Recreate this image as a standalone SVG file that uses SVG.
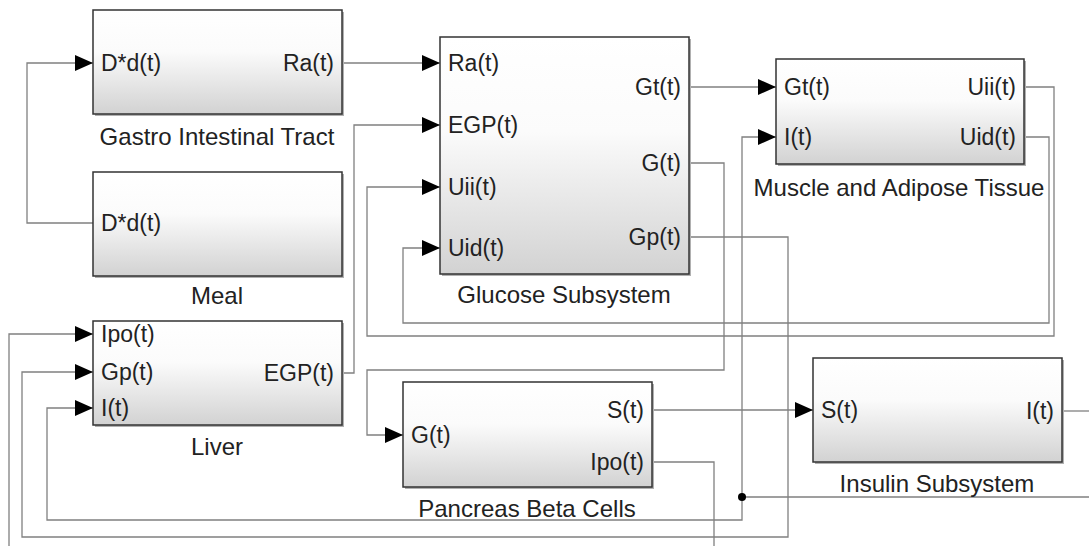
<svg xmlns="http://www.w3.org/2000/svg" width="1089" height="546" viewBox="0 0 1089 546">
<style>
.blk{fill:url(#g);stroke:#333;stroke-width:1.5}
.sh{fill:#b0b0b0}
.pt{font-family:"Liberation Sans",Arial,sans-serif;font-size:23px;fill:#222}
.lb{font-family:"Liberation Sans",Arial,sans-serif;font-size:24px;fill:#222;text-anchor:middle}
.r{text-anchor:end}
.c{fill:none;stroke:#808080;stroke-width:1.3}
.a{marker-end:url(#arr)}
</style>
<defs>
<linearGradient id="g" x1="0" y1="0" x2="0" y2="1">
<stop offset="0" stop-color="#ffffff"/>
<stop offset="0.4" stop-color="#fbfbfb"/>
<stop offset="1" stop-color="#d2d2d2"/>
</linearGradient>
<marker id="arr" markerUnits="userSpaceOnUse" markerWidth="18" markerHeight="16" refX="18" refY="8" orient="auto">
<path d="M0,0 L18,8 L0,16 z" fill="#000"/>
</marker>
</defs>
<rect width="1089" height="546" fill="#fff"/>

<g id="connectors">
<path class="c a" d="M93,223 H27 V63 H93"/>
<path class="c a" d="M342,63 H440"/>
<path class="c a" d="M342,373 H354 V125 H440"/>
<path class="c a" d="M1024,87 H1054 V336 H367 V187 H440"/>
<path class="c a" d="M1024,137 H1049 V323 H403 V248 H440"/>
<path class="c a" d="M689,87 H776"/>
<path class="c a" d="M689,163 H724 V370 H367 V435 H403"/>
<path class="c a" d="M689,237 H788 V537 H22 V372 H93"/>
<path class="c a" d="M652,410 H813"/>
<path class="c" d="M1062,411 H1089"/>
<path class="c a" d="M1089,497 H742 V137 H776"/>
<path class="c a" d="M742,497 V520 H47 V408 H93"/>
<path class="c" d="M652,462 H714 V546"/>
<path class="c a" d="M9,546 V334 H93"/>
<circle cx="742" cy="497" r="4" fill="#000"/>
</g>

<g id="gastro">
<rect class="sh" x="95" y="12" width="249" height="104"/>
<rect class="blk" x="93" y="10" width="249" height="104"/>
<text class="pt" x="101" y="71">D*d(t)</text>
<text class="pt r" x="334" y="71">Ra(t)</text>
<text class="lb" x="217" y="145">Gastro Intestinal Tract</text>
</g>

<g id="meal">
<rect class="sh" x="95" y="174" width="249" height="104"/>
<rect class="blk" x="93" y="172" width="249" height="104"/>
<text class="pt" x="101" y="231">D*d(t)</text>
<text class="lb" x="217" y="304">Meal</text>
</g>

<g id="glucose">
<rect class="sh" x="442" y="39" width="249" height="237"/>
<rect class="blk" x="440" y="37" width="249" height="237"/>
<text class="pt" x="448" y="71">Ra(t)</text>
<text class="pt" x="448" y="133">EGP(t)</text>
<text class="pt" x="448" y="195">Uii(t)</text>
<text class="pt" x="448" y="256">Uid(t)</text>
<text class="pt r" x="681" y="95">Gt(t)</text>
<text class="pt r" x="681" y="171">G(t)</text>
<text class="pt r" x="681" y="245">Gp(t)</text>
<text class="lb" x="564" y="303">Glucose Subsystem</text>
</g>

<g id="muscle">
<rect class="sh" x="778" y="61" width="248" height="105"/>
<rect class="blk" x="776" y="59" width="248" height="105"/>
<text class="pt" x="784" y="95">Gt(t)</text>
<text class="pt" x="784" y="145">I(t)</text>
<text class="pt r" x="1016" y="95">Uii(t)</text>
<text class="pt r" x="1016" y="145">Uid(t)</text>
<text class="lb" x="899" y="196">Muscle and Adipose Tissue</text>
</g>

<g id="liver">
<rect class="sh" x="95" y="323" width="249" height="104"/>
<rect class="blk" x="93" y="321" width="249" height="104"/>
<text class="pt" x="101" y="342">Ipo(t)</text>
<text class="pt" x="101" y="380">Gp(t)</text>
<text class="pt" x="101" y="416">I(t)</text>
<text class="pt r" x="334" y="381">EGP(t)</text>
<text class="lb" x="217" y="455">Liver</text>
</g>

<g id="pancreas">
<rect class="sh" x="405" y="384" width="249" height="105"/>
<rect class="blk" x="403" y="382" width="249" height="105"/>
<text class="pt" x="411" y="443">G(t)</text>
<text class="pt r" x="644" y="418">S(t)</text>
<text class="pt r" x="644" y="470">Ipo(t)</text>
<text class="lb" x="527" y="517">Pancreas Beta Cells</text>
</g>

<g id="insulin">
<rect class="sh" x="815" y="360" width="249" height="104"/>
<rect class="blk" x="813" y="358" width="249" height="104"/>
<text class="pt" x="821" y="418">S(t)</text>
<text class="pt r" x="1054" y="419">I(t)</text>
<text class="lb" x="937" y="492">Insulin Subsystem</text>
</g>
</svg>
